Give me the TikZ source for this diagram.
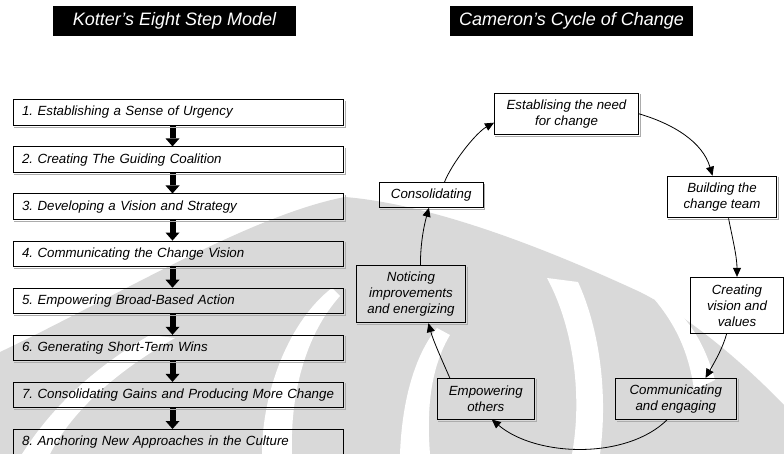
\documentclass[tikz,border=0pt]{standalone}
\usepackage{fontspec}
\setmainfont{Liberation Sans}
\usetikzlibrary{arrows.meta}
\definecolor{wmgrey}{gray}{0.85}
\frenchspacing
\begin{document}
\begin{tikzpicture}[x=1pt,y=-1pt,
  every node/.style={font=\fontsize{13.3}{16}\selectfont\itshape},
  titlebar/.style={fill=black, text=white, minimum width=243pt, minimum height=30pt,
    inner sep=0pt, font=\fontsize{18}{20}\selectfont\itshape},
  kbox/.style={draw=black, line width=0.9pt, minimum width=330pt, minimum height=25.5pt,
    text width=318pt, align=left, inner xsep=6pt, inner ysep=0pt},
  cbox/.style={draw=black, line width=0.9pt, align=center, inner sep=0pt},
  boxshade/.style={draw=gray!65, line width=0.8pt},
  blockarrow/.style={line width=6pt, -{Triangle[length=8pt,width=14pt,line width=0pt]}},
  cyc/.style={line width=0.8pt, -{Triangle[length=9pt,width=8pt]}},
]
\useasboundingbox (0,0) rectangle (784,454);

% watermark in the background
\fill[wmgrey] (0,352) .. controls (110,300) and (250,215) .. (345,197)
  .. controls (440,205) and (560,255) .. (640,292)
  .. controls (700,322) and (760,380) .. (784,405) -- (784,454) -- (0,454) -- cycle;
\fill[white] (22,454) .. controls (50,410) and (90,370) .. (150,335)
  -- (175,338) .. controls (110,375) and (70,415) .. (50,454) -- cycle;
\fill[white] (262,454) .. controls (262,390) and (290,320) .. (332,288)
  -- (340,296) .. controls (305,335) and (290,395) .. (292,454) -- cycle;
\fill[white] (400,454) .. controls (402,400) and (415,355) .. (437,328)
  -- (450,335) .. controls (432,365) and (426,405) .. (430,454) -- cycle;
\fill[white] (547,278) .. controls (575,330) and (582,400) .. (572,454)
  -- (600,454) .. controls (608,395) and (600,330) .. (578,282) -- cycle;
\fill[white] (655,300) .. controls (680,330) and (690,360) .. (694,390)
  -- (715,380) .. controls (705,345) and (690,320) .. (670,305) -- cycle;

% titles
\node[titlebar] (t1) at (174.5,21) {Kotter’s Eight Step Model};
\node[titlebar] (t2) at (571.5,21) {Cameron’s Cycle of Change};

% Kotter's steps
\node[kbox] (k1) at (178.5,112.5) {\hspace{2.5pt}1. Establishing a Sense of Urgency};
\node[kbox] (k2) at (178.5,159.6) {\hspace{2.5pt}2. Creating The Guiding Coalition};
\node[kbox] (k3) at (178.5,206.7) {\hspace{2.5pt}3. Developing a Vision and Strategy};
\node[kbox] (k4) at (178.5,253.8) {\hspace{2.5pt}4. Communicating the Change Vision};
\node[kbox] (k5) at (178.5,300.9) {\hspace{2.5pt}5. Empowering Broad-Based Action};
\node[kbox] (k6) at (178.5,348.0) {\hspace{2.5pt}6. Generating Short-Term Wins};
\node[kbox] (k7) at (178.5,395.1) {\hspace{2.5pt}7. Consolidating Gains and Producing More Change};
\node[kbox] (k8) at (178.5,442.2) {\hspace{2.5pt}8. Anchoring New Approaches in the Culture};

\coordinate (ax) at (172.5,0);
\foreach \a/\b in {k1/k2,k2/k3,k3/k4,k4/k5,k5/k6,k6/k7,k7/k8}
  \draw[blockarrow] (\a.south -| ax) -- (\b.north -| ax);

% Cameron's cycle
\node[cbox, minimum width=144pt, minimum height=41pt] (est) at (566.5,113.8) {Establising the need\\for change};
\node[cbox, minimum width=109pt, minimum height=41.7pt] (build) at (722,197) {Building the\\change team};
\node[cbox, minimum width=93pt, minimum height=56pt] (create) at (737,305.3) {Creating\\vision and\\values};
\node[cbox, minimum width=120.5pt, minimum height=40.7pt] (comm) at (675.8,398.7) {Communicating\\and engaging};
\node[cbox, minimum width=97.5pt, minimum height=40.7pt] (emp) at (485.8,398.7) {Empowering\\others};
\node[cbox, minimum width=109pt, minimum height=57pt] (notice) at (411,294.2) {Noticing\\improvements\\and energizing};
\node[cbox, minimum width=103.5pt, minimum height=24.6pt] (consol) at (431.2,195) {Consolidating};

% light shading along the right and lower edges of every box
\foreach \b in {k1,k2,k3,k4,k5,k6,k7,est,build,comm,emp,notice,consol}
  \draw[boxshade] ([xshift=1.4pt,yshift=-1.4pt]\b.north east)
    -- ([xshift=1.4pt,yshift=-1.4pt]\b.south east)
    -- ([xshift=1.4pt,yshift=-1.4pt]\b.south west);

\draw[cyc] (est.east) .. controls +(34,10) and +(-10,-34) .. (build.114);
\draw[cyc] (build.-73) .. controls +(4,20) and +(0,-20) .. (create.north);
\draw[cyc] (create.-110) .. controls +(-4,15) and +(8,-14) .. (comm.35);
\draw[cyc] (comm.-112) .. controls +(-40,40) and +(45,38) .. (emp.-74);
\draw[cyc] (emp.150) .. controls +(-7,-16) and +(5,18) .. (notice.-59);
\draw[cyc] (notice.72) .. controls +(0,-22) and +(-5,18) .. (consol.-100);
\draw[cyc] (consol.44) .. controls +(8,-20) and +(-18,10) .. (est.187);
\end{tikzpicture}
\end{document}
